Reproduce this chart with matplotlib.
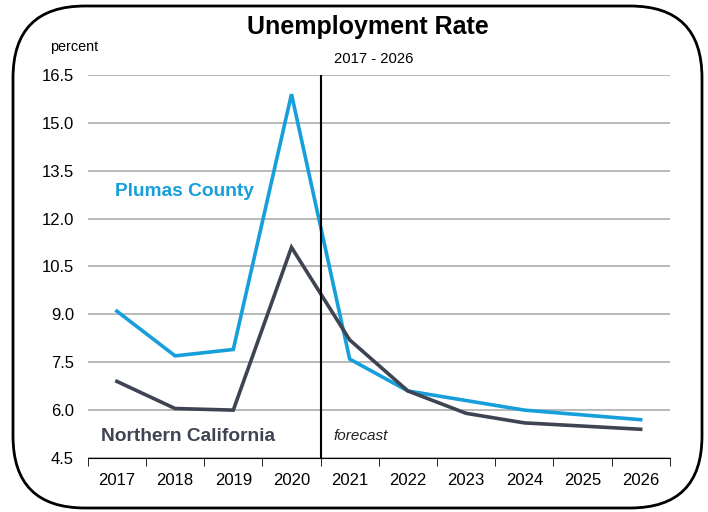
import matplotlib.pyplot as plt
import numpy as np
from matplotlib.patches import FancyBboxPatch
from matplotlib.transforms import IdentityTransform

plt.rcParams['font.family'] = ['Liberation Sans', 'DejaVu Sans']

years = ['2017', '2018', '2019', '2020', '2021', '2022', '2023', '2024', '2025', '2026']
plumas = [9.1, 7.7, 7.9, 15.9, 7.6, 6.6, 6.3, 6.0, 5.85, 5.7]
norcal = [6.9, 6.05, 6.0, 11.1, 8.2, 6.6, 5.9, 5.6, 5.5, 5.4]
yticks = [4.5, 6.0, 7.5, 9.0, 10.5, 12.0, 13.5, 15.0, 16.5]

blue = '#169fdb'
dark = '#3f4452'

fig = plt.figure(figsize=(7.08, 5.12), dpi=100)
ax = fig.add_axes([0.124, 0.1055, 0.822, 0.748])

x = np.arange(len(years))
ax.plot(x, plumas, color=blue, lw=2.6, solid_joinstyle='miter')
ax.plot(x, norcal, color=dark, lw=2.6, solid_joinstyle='miter')

ax.set_xlim(-0.5, 9.5)
ax.set_ylim(4.5, 16.5)
ax.set_yticks(yticks)
ax.set_yticklabels(['%.1f' % v for v in yticks], fontsize=12)
ax.yaxis.grid(True, color='#a6a6a6', lw=1.1)
ax.set_axisbelow(True)
ax.tick_params(axis='y', length=0, pad=10)

ax.set_xticks(x)
ax.set_xticklabels(years, fontsize=12)
ax.set_xticks(np.arange(-0.5, 10, 1), minor=True)
ax.tick_params(axis='x', which='major', length=0, pad=11)
ax.tick_params(axis='x', which='minor', length=6, direction='out', color='black')

for s in ['top', 'right', 'left']:
    ax.spines[s].set_visible(False)
ax.spines['bottom'].set_color('black')

ax.axvline(3.5, color='black', lw=1.5)

ax.text(-0.03, 12.86, 'Plumas County', color=blue, fontsize=13.8,
        fontweight='bold', va='center')
ax.text(-0.28, 5.18, 'Northern California', color=dark, fontsize=13.8,
        fontweight='bold', va='center')
ax.text(3.72, 5.18, 'forecast', fontsize=11, style='italic', color='#222222',
        va='center')

fig.text(0.52, 0.947, 'Unemployment Rate', ha='center', va='center',
         fontsize=18, fontweight='bold')
fig.text(0.528, 0.884, '2017 - 2026', ha='center', va='center', fontsize=10.7)
fig.text(0.07, 0.908, 'percent', ha='left', va='center', fontsize=10.4)

# rounded outer frame, drawn in pixel space
frame = FancyBboxPatch((13, 4), 689, 502, boxstyle='round,pad=0,rounding_size=72',
                       transform=IdentityTransform(), facecolor='none',
                       edgecolor='black', lw=2)
fig.patches.append(frame)

fig.savefig('out.png', dpi=100)
